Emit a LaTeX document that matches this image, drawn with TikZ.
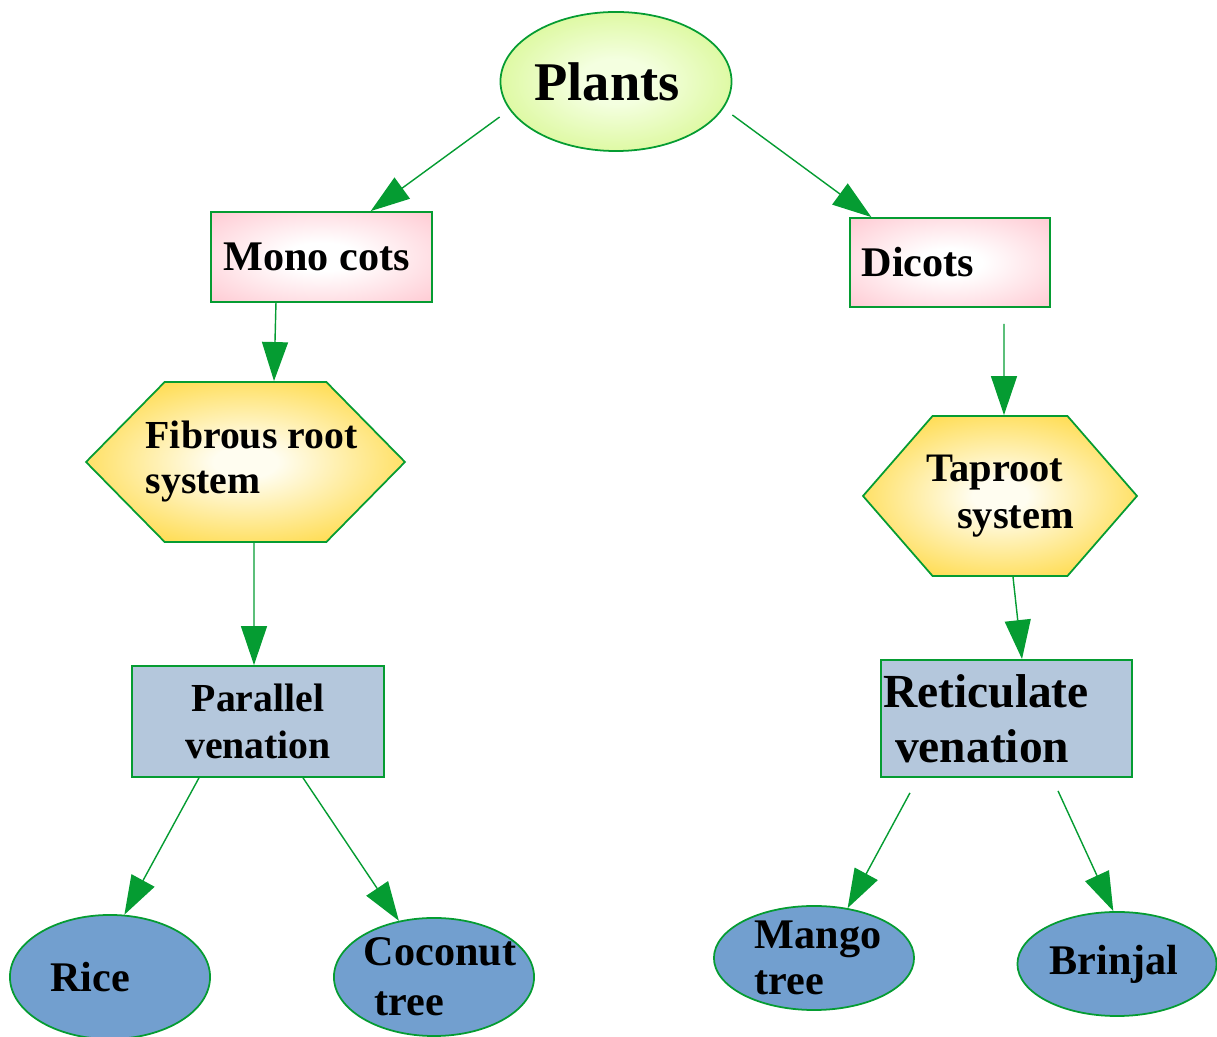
\documentclass[tikz,border=0pt]{standalone}
\usepackage{fontspec}
\setmainfont{Liberation Serif}
\usetikzlibrary{shapes.geometric,shapes.symbols,arrows.meta}

\definecolor{linkgreen}{HTML}{059C32}
\definecolor{limecore}{HTML}{F4FFE0}
\definecolor{limeedge}{HTML}{C4F25A}
\definecolor{pinkedge}{HTML}{FFC2CC}
\definecolor{goldcore}{HTML}{FFFDF0}
\definecolor{goldedge}{HTML}{FFD42A}
\definecolor{veinblue}{HTML}{B4C7DC}
\definecolor{blobblue}{HTML}{729FCF}

\pgfdeclareradialshading{limeglow}{\pgfpoint{0bp}{0bp}}{color(0bp)=(limecore); color(8bp)=(limecore); color(46bp)=(limeedge); color(75bp)=(limeedge)}
\pgfdeclareradialshading{pinkglow}{\pgfpoint{0bp}{0bp}}{color(0bp)=(white); color(8bp)=(white); color(40bp)=(pinkedge); color(75bp)=(pinkedge)}
\pgfdeclareradialshading{goldglow}{\pgfpoint{0bp}{0bp}}{color(0bp)=(goldcore); color(5bp)=(goldcore); color(34bp)=(goldedge); color(75bp)=(goldedge)}

\begin{document}
\begin{tikzpicture}[x=0.01cm,y=-0.01cm,
    link/.style={linkgreen, line width=0.4pt, -{Triangle[length=0.39cm,width=0.26cm]}},
    box/.style={rectangle, draw=linkgreen, line width=0.5pt, inner sep=0pt},
    hexbox/.style={signal, signal to=east and west, draw=linkgreen, line width=0.5pt, inner ysep=0pt, align=left},
    blob/.style={ellipse, draw=linkgreen, line width=0.5pt, inner sep=-0.2cm, fill=blobblue},
    txt/.style={font=\bfseries\fontsize{12}{14}\selectfont}]
	\useasboundingbox (0,0) rectangle (1217,1037);

	% top
	\node[ellipse, draw=linkgreen, line width=0.5pt, inner sep=0pt, shade, shading=limeglow,
	      minimum width=2.28cm, minimum height=1.39cm,
	      font=\bfseries\fontsize{15.5}{18}\selectfont] (plants) at (616,81.5) {Plants\hspace*{0.18cm}};

	% two classes
	\node[box, shade, shading=pinkglow, minimum width=2.21cm, minimum height=0.90cm, txt] (mono) at (321.5,257) {Mono cots\hspace*{0.1cm}};
	\node[box, shade, shading=pinkglow, minimum width=2.0cm, minimum height=0.89cm, txt] (dicots) at (950,262.5) {Dicots\hspace*{0.64cm}};

	% roots
	\node[hexbox, shade, shading=goldglow, inner xsep=-0.31cm, minimum height=1.60cm, signal pointer angle=91,
	      font=\bfseries\fontsize{11.3}{12.8}\selectfont] (fibrous) at (245.5,462) {\hspace*{0.12cm}Fibrous root\\\hspace*{0.12cm}system};
	\node[hexbox, shade, shading=goldglow, inner xsep=-0.065cm, minimum height=1.60cm, signal pointer angle=98,
	      font=\bfseries\fontsize{11.5}{13.4}\selectfont] (taproot) at (1000,496) {Taproot\\\hspace*{0.31cm}system};

	% leaves
	\node[box, fill=veinblue, minimum width=2.52cm, minimum height=1.11cm, align=center,
	      font=\bfseries\fontsize{11.3}{13.4}\selectfont] (parallel) at (258,721.5) {Parallel\\venation};
	\node[box, fill=veinblue, minimum width=2.51cm, minimum height=1.17cm, align=left,
	      font=\bfseries\fontsize{13.5}{15.6}\selectfont] (reticulate) at (1006.5,718.5) {Reticulate\hspace*{0.41cm}\\\hspace*{0.12cm}venation};

	% examples
	\node[blob, minimum width=2.0cm, minimum height=1.24cm, txt] (rice) at (110,977) {Rice\hspace*{0.4cm}};
	\node[blob, minimum width=2.0cm, minimum height=1.18cm, txt, align=left,
	      font=\bfseries\fontsize{12}{14.2}\selectfont] (coconut) at (434,977) {\hspace*{0.12cm}Coconut\\\hspace*{0.23cm}tree};
	\node[blob, minimum width=2.0cm, minimum height=1.04cm, txt, align=left,
	      font=\bfseries\fontsize{12}{13.1}\selectfont] (mango) at (814,958) {\hspace*{0.08cm}Mango\\\hspace*{0.08cm}tree};
	\node[blob, minimum width=1.99cm, minimum height=1.04cm, txt] (brinjal) at (1117,964) {Brinjal\hspace*{0.06cm}};

	\draw[link] ([yshift=-0.355cm]plants.west) -- (mono.43.5);
	\draw[link] ([yshift=-0.335cm]plants.east) -- (dicots.150);
	\draw[link] ([xshift=-0.455cm]mono.south) -- ([xshift=0.285cm]fibrous.north);
	\draw[link] ([xshift=0.54cm,yshift=-0.16cm]dicots.south) -- ([xshift=0.04cm]taproot.north);
	\draw[link] ([xshift=0.085cm]fibrous.south) -- ([xshift=-0.04cm]parallel.north);
	\draw[link] ([xshift=0.13cm]taproot.south) -- ([xshift=0.155cm]reticulate.north);
	\draw[link] ([xshift=-0.59cm]parallel.south) -- (rice.77);
	\draw[link] ([xshift=0.45cm]parallel.south) -- (coconut.122);
	\draw[link] ([xshift=-0.965cm,yshift=-0.15cm]reticulate.south) -- (mango.56);
	\draw[link] ([xshift=0.515cm,yshift=-0.13cm]reticulate.south) -- (brinjal.94);
\end{tikzpicture}
\end{document}
